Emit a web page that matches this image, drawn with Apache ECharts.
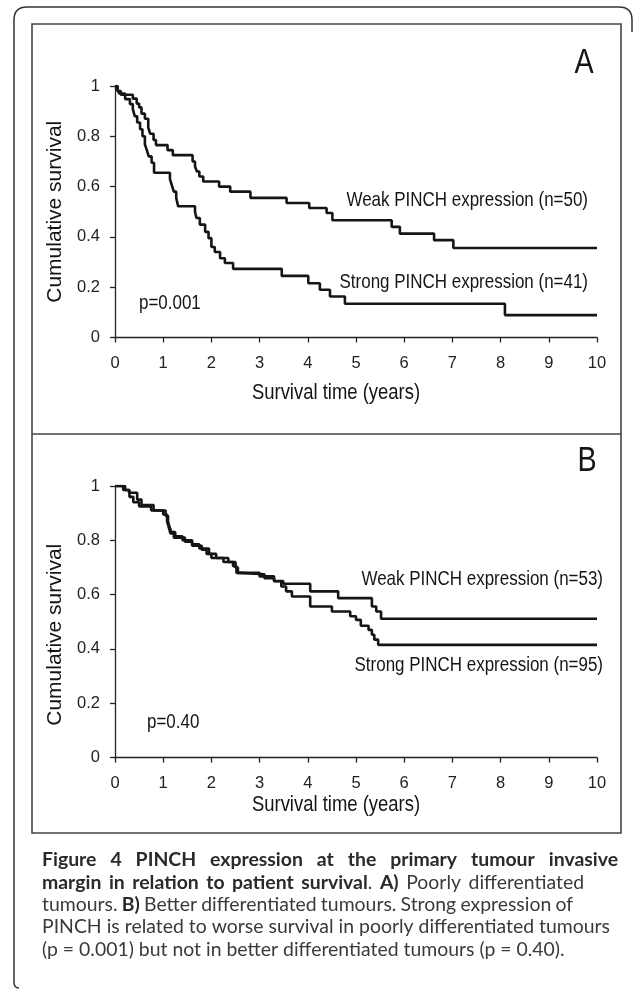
<!DOCTYPE html>
<html><head><meta charset="utf-8">
<script src="https://cdn.jsdelivr.net/npm/echarts@6/dist/echarts.min.js"></script>
<style>html,body{margin:0;padding:0;background:#fff}#c{width:633px;height:989px}</style>
</head><body><div id="c"></div>
<script>
// ---- data ----
const xTicks = [0,1,2,3,4,5,6,7,8,9,10];
const yTicks = [0,0.2,0.4,0.6,0.8,1];

const aWeakT  = [0,0.05,0.12,0.37,0.45,0.50,0.55,0.62,0.69,0.73,0.80,0.85,1.09,1.20,1.61,1.66,1.70,1.75,1.83,2.16,2.39,2.81,3.56,4.03,4.39,4.51,5.74,5.91,6.62,7.02,10];
const aWeakS  = [1,0.98,0.965,0.95,0.93,0.915,0.89,0.87,0.835,0.81,0.785,0.765,0.745,0.725,0.70,0.68,0.66,0.64,0.62,0.60,0.58,0.555,0.535,0.515,0.495,0.466,0.44,0.413,0.387,0.356,0.356];
const aStrongT = [0,0.05,0.09,0.21,0.31,0.37,0.41,0.46,0.52,0.57,0.62,0.66,0.70,0.76,0.81,1.14,1.18,1.22,1.27,1.31,1.66,1.69,1.76,1.87,1.94,2.00,2.07,2.18,2.28,2.45,3.46,4.01,4.25,4.46,4.77,8.09,10];
const aStrongS = [1,0.985,0.97,0.948,0.928,0.908,0.88,0.855,0.828,0.80,0.768,0.745,0.72,0.695,0.655,0.63,0.605,0.58,0.555,0.522,0.50,0.475,0.449,0.42,0.395,0.36,0.34,0.315,0.296,0.273,0.245,0.216,0.19,0.163,0.134,0.089,0.089];

const bWeakT  = [0,0.21,0.29,0.46,0.55,0.80,1.05,1.10,1.13,1.17,1.25,1.40,1.60,1.75,1.95,2.10,2.35,2.50,2.55,2.60,3.10,3.30,3.49,4.05,4.63,5.33,5.42,5.52,10];
const bWeakS  = [1,0.985,0.975,0.95,0.93,0.91,0.89,0.87,0.85,0.83,0.815,0.80,0.785,0.77,0.75,0.735,0.72,0.70,0.68,0.675,0.66,0.65,0.64,0.612,0.587,0.556,0.538,0.511,0.511];
const bStrongT = [0,0.17,0.30,0.38,0.50,0.75,1.00,1.08,1.12,1.15,1.22,1.45,1.60,1.80,1.90,2.00,2.25,2.45,2.52,3.00,3.30,3.45,3.55,3.67,4.05,4.50,4.88,5.00,5.10,5.26,5.33,5.38,5.46,10];
const bStrongS = [1,0.985,0.96,0.94,0.925,0.91,0.895,0.87,0.845,0.825,0.81,0.795,0.78,0.765,0.75,0.735,0.72,0.705,0.68,0.667,0.649,0.63,0.612,0.593,0.556,0.538,0.52,0.507,0.485,0.47,0.452,0.434,0.415,0.415];

const panelLabels = ['A','B'];
const annA = ['Weak PINCH expression (n=50)','Strong PINCH expression (n=41)','p=0.001'];
const annB = ['Weak PINCH expression (n=53)','Strong PINCH expression (n=95)','p=0.40'];
const xTitle = 'Survival time (years)';
const yTitle = 'Cumulative survival';
const captionLines = [
  '**Figure 4 PINCH expression at the primary tumour invasive**',
  '**margin in relation to patient survival**. **A)** Poorly differentiated',
  'tumours. **B)** Better differentiated tumours. Strong expression of',
  'PINCH is related to worse survival in poorly differentiated tumours',
  '(p = 0.001) but not in better differentiated tumours (p = 0.40).'
];

// ---- chart ----
const SANS = "'Liberation Sans',Arial,sans-serif";
const NARROW_SX = 0.82; // horizontal squeeze emulating a narrow face
const INK = '#151515';
const chart = echarts.init(document.getElementById('c'), null, {renderer:'canvas'});
const pairs = (t, s) => t.map((v, i) => [v, s[i]]);

function xAx(idx) {
  return {
    gridIndex: idx, type: 'value', min: xTicks[0], max: xTicks[xTicks.length-1], interval: 1,
    axisLine: {show: true, lineStyle: {color: '#222', width: 1.3}},
    axisTick: {show: true, length: 5, lineStyle: {color: '#222', width: 1.3}},
    axisLabel: {fontFamily: SANS, fontSize: 16.5, color: '#222', margin: 17},
    splitLine: {show: false}
  };
}
function yAx(idx, pad) {
  return {
    gridIndex: idx, type: 'value', min: yTicks[0], max: yTicks[yTicks.length-1], interval: 0.2,
    axisLine: {show: true, lineStyle: {color: '#222', width: 1.3}},
    axisTick: {show: true, length: 5, lineStyle: {color: '#222', width: 1.3}},
    axisLabel: {fontFamily: SANS, fontSize: 16.5, color: '#222', margin: 15},
    splitLine: {show: false},
    name: yTitle, nameLocation: 'middle', nameGap: 36,
    nameTextStyle: {fontFamily: SANS, fontSize: 21, color: INK, padding: pad}
  };
}
function km(name, t, s, idx) {
  return {
    name, type: 'line', xAxisIndex: idx, yAxisIndex: idx, step: 'end',
    data: pairs(t, s), symbol: 'none', silent: true,
    lineStyle: {color: INK, width: 2.6}
  };
}

const graphics = [];
const bStyle = {fill:'none', stroke:'#333', lineWidth:1.5};
// outer bracket border
graphics.push({type:'polyline', shape:{points:[[14,982],[14,20]]}, style:bStyle});
graphics.push({type:'bezierCurve', shape:{x1:14,y1:20,cpx1:14,cpy1:7,x2:27,y2:7}, style:bStyle});
graphics.push({type:'polyline', shape:{points:[[27,7],[619,7]]}, style:bStyle});
graphics.push({type:'bezierCurve', shape:{x1:619,y1:7,cpx1:632,cpy1:7,x2:632,y2:20}, style:bStyle});
graphics.push({type:'polyline', shape:{points:[[632,20],[632,32]]}, style:bStyle});
graphics.push({type:'bezierCurve', shape:{x1:14,y1:982,cpx1:14,cpy1:988,x2:19,y2:988}, style:bStyle});
// figure frame
graphics.push({type:'rect', shape:{x:32, y:24, width:589, height:809}, style:{fill:'none', stroke:'#444', lineWidth:1.6}});
graphics.push({type:'line', shape:{x1:32, y1:434, x2:621, y2:434}, style:{stroke:'#444', lineWidth:1.6}});

function ntext(text, x, y, size, align) {
  graphics.push({type:'text', x, y, scaleX: NARROW_SX, scaleY: 1,
    style:{text, fontFamily:SANS, fontSize:size, fill:INK, align, verticalAlign:'middle'}});
}
// panel letters
ntext(panelLabels[0], 584, 63, 35, 'center');
ntext(panelLabels[1], 587, 461, 35, 'center');
// x-axis titles
ntext(xTitle, 336, 393, 22.5, 'center');
ntext(xTitle, 336, 805, 22.5, 'center');
// annotations
ntext(annA[0], 588, 200, 20.7, 'right');
ntext(annA[1], 588, 282, 20.7, 'right');
ntext(annA[2], 139, 303, 20.7, 'left');
ntext(annB[0], 603, 579, 20.7, 'right');
ntext(annB[1], 603, 665, 20.7, 'right');
ntext(annB[2], 147, 722, 20.7, 'left');

// caption with measured word placement
const CAPF = "Lato,'Open Sans',sans-serif";
const cv = document.createElement('canvas').getContext('2d');
function parseLine(line) {
  const segs = []; const parts = line.split('**');
  parts.forEach((p, i) => { if (p) segs.push({t: p, b: i % 2 === 1}); });
  const words = []; let cur = [];
  segs.forEach(sg => {
    const pieces = sg.t.split(' ');
    pieces.forEach((pc, j) => {
      if (j > 0) { if (cur.length) words.push(cur); cur = []; }
      if (pc) cur.push({t: pc, b: sg.b});
    });
  });
  if (cur.length) words.push(cur);
  return words;
}
function segW(sg, fs) { cv.font = (sg.b ? '700 ' : '400 ') + fs + 'px ' + CAPF; return cv.measureText(sg.t).width; }
const baseFs = 17;
const w4 = (() => { const ws = parseLine(captionLines[3]); cv.font = '400 ' + baseFs + 'px ' + CAPF;
  const sp = cv.measureText(' ').width; return ws.reduce((a, w) => a + w.reduce((b, s) => b + segW(s, baseFs), 0), 0) + sp * (ws.length - 1); })();
const capFs = baseFs * 568 / w4;
const capLeft = 42, capTop = 860, capStep = 22.35;
const capRight = [618, 584, 573, 610, null];
captionLines.forEach((line, li) => {
  const words = parseLine(line);
  const widths = words.map(w => w.reduce((a, s) => a + segW(s, capFs), 0));
  const total = widths.reduce((a, b) => a + b, 0);
  cv.font = '400 ' + capFs + 'px ' + CAPF;
  let gap = cv.measureText(' ').width;
  if (capRight[li] !== null) gap = (capRight[li] - capLeft - total) / (words.length - 1);
  let x = capLeft; const y = capTop + li * capStep;
  words.forEach((w, wi) => {
    let xx = x;
    w.forEach(sg => {
      graphics.push({type:'text', x: xx, y, style:{text: sg.t, fontFamily: CAPF, fontSize: capFs, fontWeight: sg.b ? 700 : 400,
        fill: sg.b ? '#2a2a2a' : '#3a3a3a', align:'left', verticalAlign:'middle'}});
      xx += segW(sg, capFs);
    });
    x += widths[wi] + gap;
  });
});

chart.setOption({
  animation: false,
  backgroundColor: '#fff',
  grid: [
    {left: 115, top: 86, width: 482, height: 251.5},
    {left: 115, top: 486, width: 482, height: 271.5}
  ],
  xAxis: [xAx(0), xAx(1)],
  yAxis: [yAx(0, [0,0,0,0]), yAx(1, [0,26,0,0])],
  series: [
    km('Weak PINCH expression (n=50)', aWeakT, aWeakS, 0),
    km('Strong PINCH expression (n=41)', aStrongT, aStrongS, 0),
    km('Weak PINCH expression (n=53)', bWeakT, bWeakS, 1),
    km('Strong PINCH expression (n=95)', bStrongT, bStrongS, 1)
  ],
  graphic: graphics
});
</script>
</body></html>
